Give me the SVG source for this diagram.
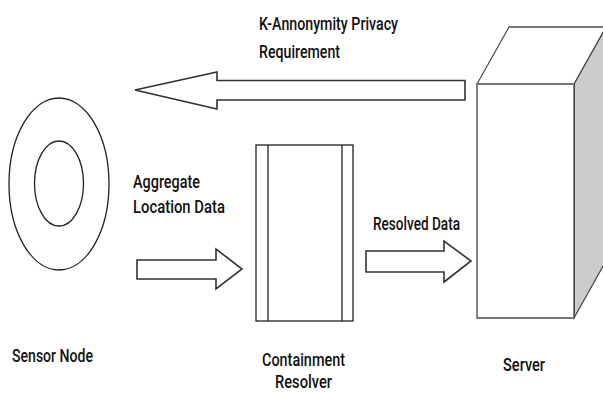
<svg xmlns="http://www.w3.org/2000/svg" width="603" height="394" viewBox="0 0 603 394">
<style>
.t{font-family:Roboto,"Liberation Sans",sans-serif;font-weight:500;font-size:19px;fill:#111}
.s{fill:none;stroke:#222;stroke-width:1.3}
.a{fill:#fff;stroke:#333;stroke-width:1.6;stroke-linejoin:miter}
</style>
<rect width="603" height="394" fill="#fff"/>
<g id="sensor-node">
<ellipse class="s" cx="59" cy="184" rx="50" ry="86"/>
<ellipse class="s" cx="59" cy="183.5" rx="24.5" ry="42.5"/>
<text class="t" x="12" y="362" textLength="81" lengthAdjust="spacingAndGlyphs">Sensor Node</text>
</g>
<g id="containment-resolver">
<rect class="s" x="256" y="145" width="97" height="176"/>
<line class="s" x1="268" y1="145" x2="268" y2="321"/>
<line class="s" x1="342" y1="145" x2="342" y2="321"/>
<text class="t" x="262" y="366" textLength="83" lengthAdjust="spacingAndGlyphs">Containment</text>
<text class="t" x="275" y="388" textLength="57" lengthAdjust="spacingAndGlyphs">Resolver</text>
</g>
<g id="server">
<polygon points="574,84 606,27 606,261 574,318" fill="#cccccc" stroke="#444" stroke-width="1.2"/>
<polygon points="477,84 509,27 606,27 574,84" fill="#fff" stroke="#444" stroke-width="1.2"/>
<rect x="477" y="84" width="97" height="234" fill="#fff" stroke="#333" stroke-width="1.2"/>
<line x1="477" y1="84" x2="574" y2="84" stroke="#777" stroke-width="2.2"/>
<line x1="509" y1="27" x2="606" y2="27" stroke="#777" stroke-width="2.2"/>
<line x1="477" y1="318" x2="574" y2="318" stroke="#777" stroke-width="2.2"/>
<text class="t" x="503" y="371" textLength="42" lengthAdjust="spacingAndGlyphs">Server</text>
</g>
<g id="connectors">
<polygon class="a" points="465,80.5 217,80.5 217,72 135,90 217,109 217,100 465,100"/>
<polygon class="a" points="137,260 216,260 216,249 242,269 216,289 216,279 137,279"/>
<polygon class="a" points="366,251 444,251 444,241 471,261 444,282 444,272 366,272"/>
<text class="t" x="259" y="30" textLength="139" lengthAdjust="spacingAndGlyphs">K-Annonymity Privacy</text>
<text class="t" x="259" y="58" textLength="81" lengthAdjust="spacingAndGlyphs">Requirement</text>
<text class="t" x="133" y="188" textLength="67" lengthAdjust="spacingAndGlyphs">Aggregate</text>
<text class="t" x="133" y="213" textLength="92" lengthAdjust="spacingAndGlyphs">Location Data</text>
<text class="t" x="373" y="230" textLength="87" lengthAdjust="spacingAndGlyphs">Resolved Data</text>
</g>
</svg>
